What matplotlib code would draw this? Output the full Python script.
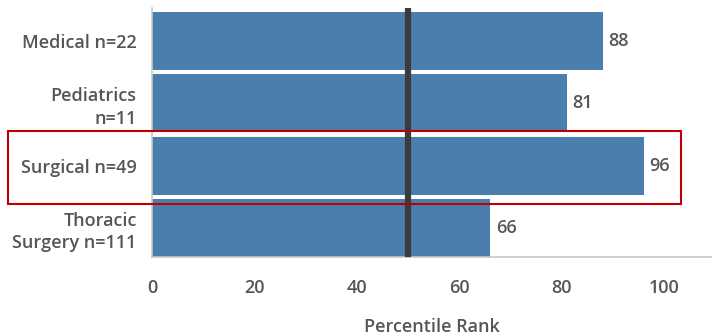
import matplotlib.pyplot as plt
from matplotlib.patches import Rectangle

# data
units = ["Medical n=22", "Pediatrics\nn=11", "Surgical n=49", "Thoracic\nSurgery n=111"]
ranks = [88, 81, 96, 66]
benchmark = 50

bar_col = "#4a7fad"
txt_col = "#555555"

plt.rcParams['font.family'] = ['Open Sans', 'DejaVu Sans']

fig = plt.figure(figsize=(7.12, 3.36), dpi=100)
ax = fig.add_axes([152/712, 1 - 257/336, 1 - 152/712, (257 - 8)/336])

pos = list(range(len(units)))
bars = ax.barh(pos, ranks, height=0.93, color=bar_col)
ax.axvline(benchmark, color="#3a3a3a", lw=4.5, zorder=3)

for b, v in zip(bars, ranks):
    ax.annotate(str(v), (b.get_width(), b.get_y() + b.get_height()/2),
                xytext=(4, 0), textcoords="offset points", va="center",
                fontsize=13, fontweight="semibold", color=txt_col)

ax.set_xlim(0, 109.3)
ax.set_ylim(3.465, -0.53)
ax.set_yticks(pos)
ax.set_yticklabels(units, fontsize=13, fontweight="semibold", color=txt_col,
                   linespacing=1.3)
ax.set_xticks([0, 20, 40, 60, 80, 100])
ax.tick_params(axis="x", length=0, pad=16, labelsize=13, labelcolor=txt_col)
ax.tick_params(axis="y", length=0, pad=11)
for lab in ax.get_xticklabels():
    lab.set_fontweight("semibold")
ax.set_xlabel("Percentile Rank", fontsize=13, fontweight="semibold",
              color=txt_col, labelpad=15)

for s in ["top", "right"]:
    ax.spines[s].set_visible(False)
ax.spines["left"].set_color("#c8c8c8")
ax.spines["bottom"].set_color("#c8c8c8")
ax.spines["left"].set_linewidth(1.2)
ax.spines["bottom"].set_linewidth(1.2)

# red highlight box around the Surgical row
fig.patches.append(Rectangle((8/712, 1 - 204/336), (681 - 8)/712, (204 - 131)/336,
                             transform=fig.transFigure, fill=False,
                             edgecolor="#c00000", lw=1.5))

fig.savefig("out.png", dpi=100)
